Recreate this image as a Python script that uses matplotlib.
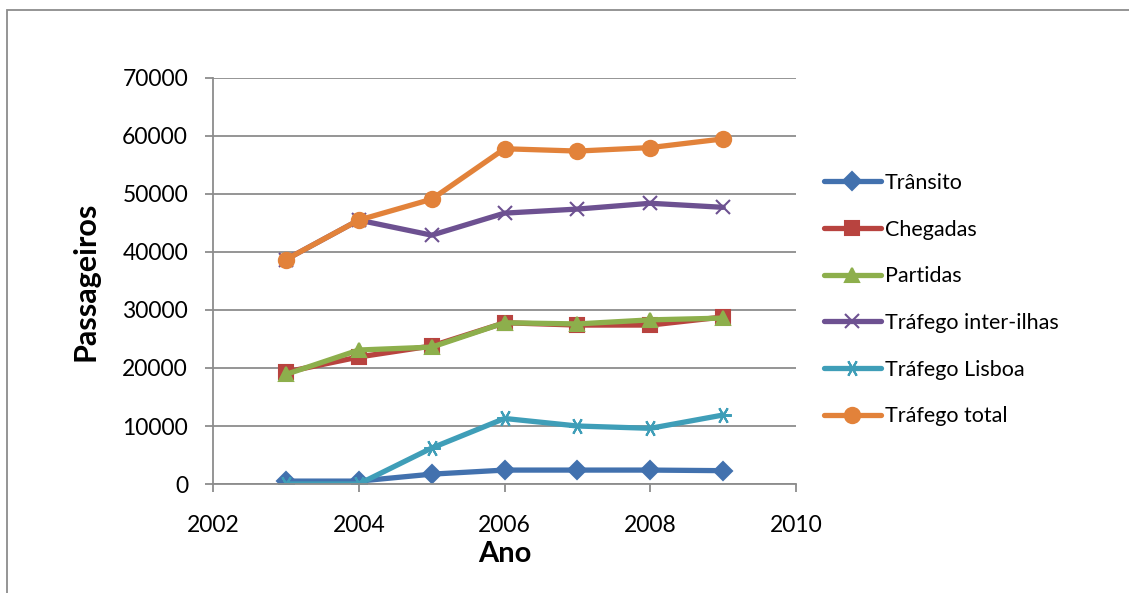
import matplotlib.pyplot as plt
from matplotlib.patches import Rectangle

# passenger counts per year
anos = [2003, 2004, 2005, 2006, 2007, 2008, 2009]
transito = [500, 500, 1700, 2400, 2400, 2400, 2300]
chegadas = [19300, 21900, 23800, 27800, 27400, 27400, 28800]
partidas = [18900, 23100, 23600, 27800, 27600, 28300, 28600]
inter_ilhas = [38700, 45500, 42900, 46700, 47400, 48400, 47700]
lisboa = [0, 0, 6200, 11300, 10000, 9600, 11900]
total = [38700, 45500, 49100, 57800, 57400, 58000, 59500]

series = [
    ("Trânsito", transito, "#4271AE", "D", 9),
    ("Chegadas", chegadas, "#B8433F", "s", 10),
    ("Partidas", partidas, "#8DAF4C", "^", 10),
    ("Tráfego inter-ilhas", inter_ilhas, "#6D5191", "x", 10),
    ("Tráfego Lisboa", lisboa, "#3F9EB8", (6, 2, 90), 12),
    ("Tráfego total", total, "#E2823A", "o", 11),
]

plt.rcParams['font.family'] = ['Lato', 'DejaVu Sans']

fig = plt.figure(figsize=(11.29, 5.93), dpi=100)
ax = fig.add_axes([0.1887, 0.1838, 0.5164, 0.6847])

for nome, vals, cor, mk, ms in series:
    ax.plot(anos, vals, color=cor, lw=3.8, marker=mk, markersize=ms,
            markeredgewidth=1.5, markeredgecolor=cor, label=nome,
            solid_joinstyle='round', solid_capstyle='round')

ax.set_xlim(2002, 2010)
ax.set_ylim(0, 70000)
ax.set_xticks(range(2002, 2011, 2))
ax.set_yticks(range(0, 70001, 10000))
ax.yaxis.grid(True, color='#8c8c8c', lw=1.3)
ax.set_axisbelow(True)

for s in ['top', 'right']:
    ax.spines[s].set_visible(False)
for s in ['left', 'bottom']:
    ax.spines[s].set_color('#8c8c8c')
    ax.spines[s].set_linewidth(1.3)

ax.tick_params(axis='both', color='#8c8c8c', width=1.3, length=6,
               labelsize=16.5, labelcolor='black')
ax.tick_params(axis='y', pad=12)
ax.tick_params(axis='x', pad=16)

ax.set_xlabel("Ano", fontsize=21, fontweight='bold', labelpad=4)
ax.set_ylabel("Passageiros", fontsize=22, fontweight='bold', labelpad=16)

leg = fig.legend(loc='upper left', bbox_to_anchor=(0.722, 0.723),
                 frameon=False, fontsize=15.5, handlelength=2.65,
                 handletextpad=0.2, labelspacing=1.24, borderaxespad=0)

# outer chart border (top and left edges visible)
fig.patches.append(Rectangle((7 / 1129, -0.1), 1.2, 1 - 10 / 593 + 0.1,
                             transform=fig.transFigure, fill=False,
                             edgecolor='#8c8c8c', lw=1.3))

fig.savefig('out.png', dpi=100)
